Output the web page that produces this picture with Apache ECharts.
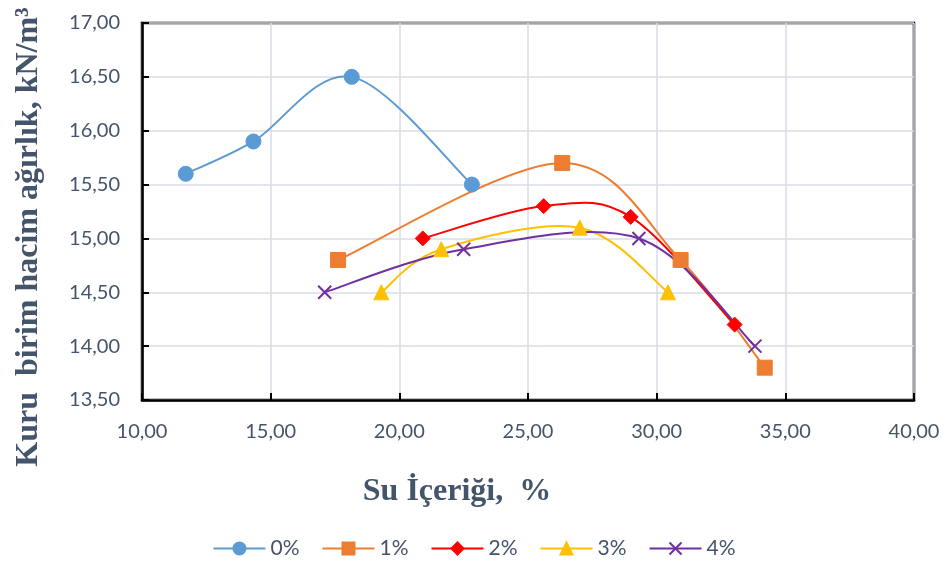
<!DOCTYPE html>
<html>
<head>
<meta charset="utf-8">
<script src="https://cdn.jsdelivr.net/npm/echarts@6/dist/echarts.min.js"></script>
<style>
  html, body { margin: 0; padding: 0; background: #fff; }
  #chart { width: 948px; height: 567px; }
</style>
</head>
<body>
<div id="chart"></div>
<script>
// seri adlari
const seriesNames = ['0%', '1%', '2%', '3%', '4%']

// su icerigi (x) ve kuru birim hacim agirlik (y)
const water0 = [11.70, 14.33, 18.15, 22.82]
const dens0 = [15.60, 15.90, 16.50, 15.50]
const water1 = [17.62, 26.33, 30.93, 34.20]
const dens1 = [14.80, 15.70, 14.80, 13.80]
const water2 = [20.91, 25.61, 28.99, 33.03]
const dens2 = [15.00, 15.30, 15.20, 14.20]
const water3 = [19.30, 21.63, 27.01, 30.44]
const dens3 = [14.50, 14.90, 15.10, 14.50]
const water4 = [17.10, 22.50, 29.31, 33.82]
const dens4 = [14.50, 14.90, 15.00, 14.00]

const xTicks = { min: 10, max: 40, step: 5 }
const yTicks = { min: 13.5, max: 17, step: 0.5 }

const colors = ['#5B9BD5', '#ED7D31', '#FF0000', '#FFC000', '#7030A0']
const symbols = ['circle', 'rect', 'diamond', 'triangle', 'path://M0,0L10,10M10,0L0,10']
const symbolSizes = [15, 15, 15, 15, 13]

const pairs = (xs, ys) => xs.map((x, i) => [x, ys[i]])
const allData = [
  pairs(water0, dens0),
  pairs(water1, dens1),
  pairs(water2, dens2),
  pairs(water3, dens3),
  pairs(water4, dens4)
]

const txtColor = '#44546A'
const fmt = v => v.toFixed(2).replace('.', ',')

// Excel tarzi yumusak egri: noktalar arasi Catmull-Rom bezier (piksel uzayinda)
const smoothPath = pts => {
  let d = 'M' + pts[0][0] + ' ' + pts[0][1]
  for (let i = 0; i < pts.length - 1; i++) {
    const p0 = pts[i - 1] || pts[i]
    const p1 = pts[i]
    const p2 = pts[i + 1]
    const p3 = pts[i + 2] || pts[i + 1]
    const c1x = p1[0] + (p2[0] - p0[0]) / 6
    const c1y = p1[1] + (p2[1] - p0[1]) / 6
    const c2x = p2[0] - (p3[0] - p1[0]) / 6
    const c2y = p2[1] - (p3[1] - p1[1]) / 6
    d += ' C' + c1x + ' ' + c1y + ' ' + c2x + ' ' + c2y + ' ' + p2[0] + ' ' + p2[1]
  }
  return d
}

const chart = echarts.init(document.getElementById('chart'))

// egriler
const curves = seriesNames.map((name, i) => ({
  type: 'custom',
  coordinateSystem: 'cartesian2d',
  data: [allData[i][0]],
  silent: true,
  z: 2,
  renderItem: (params, api) => {
    const pts = allData[i].map(p => api.coord(p))
    return {
      type: 'path',
      shape: { pathData: smoothPath(pts) },
      style: { stroke: colors[i], lineWidth: 2, fill: null }
    }
  }
}))

// isaretler (ve lejant)
const markers = seriesNames.map((name, i) => {
  const isCross = i === 4
  return {
    name,
    type: 'line',
    data: allData[i],
    symbol: symbols[i],
    symbolSize: symbolSizes[i],
    lineStyle: { color: colors[i], width: 2, opacity: 0 },
    itemStyle: isCross
      ? { color: 'rgba(0,0,0,0)', borderColor: colors[i], borderWidth: 2 }
      : { color: colors[i], borderColor: colors[i], borderWidth: 1 },
    emphasis: { disabled: true },
    z: 3 + i
  }
})

chart.setOption({
  animation: false,
  backgroundColor: '#fff',
  grid: {
    left: 142, right: 34, top: 23, bottom: 167,
    show: true, borderColor: '#000', borderWidth: 2.5
  },
  xAxis: {
    type: 'value',
    min: xTicks.min, max: xTicks.max, interval: xTicks.step,
    axisLine: { show: true, lineStyle: { color: '#000', width: 2.5 } },
    axisTick: { show: true, inside: true, length: 7, lineStyle: { color: '#000', width: 2 } },
    axisLabel: { formatter: fmt, color: txtColor, fontFamily: 'Lato', fontSize: 20, margin: 22 },
    splitLine: { show: true, lineStyle: { color: '#D9DEE6', width: 1.5 } }
  },
  yAxis: {
    type: 'value',
    min: yTicks.min, max: yTicks.max, interval: yTicks.step,
    axisLine: { show: true, lineStyle: { color: '#000', width: 2.5 } },
    axisTick: { show: true, inside: true, length: 7, lineStyle: { color: '#000', width: 2 } },
    axisLabel: { formatter: fmt, color: txtColor, fontFamily: 'Lato', fontSize: 20, margin: 22 },
    splitLine: { show: true, lineStyle: { color: '#D9DEE6', width: 1.5 } }
  },
  legend: {
    data: seriesNames.map((name, i) => ({
      name,
      lineStyle: { color: colors[i], width: 2, opacity: 1 }
    })),
    left: 'center',
    top: 533,
    itemWidth: 52,
    itemHeight: 15,
    itemGap: 22,
    textStyle: { color: txtColor, fontFamily: 'Lato', fontSize: 21 }
  },
  graphic: [
    {
      type: 'text',
      x: 29, y: 237,
      rotation: Math.PI / 2,
      style: {
        text: 'Kuru  birim hacim ağırlık, kN/m³',
        font: 'bold 32px "Liberation Serif"',
        fill: txtColor,
        textAlign: 'center',
        textVerticalAlign: 'middle'
      }
    },
    {
      type: 'text',
      x: 457, y: 492,
      style: {
        text: 'Su İçeriği,  %',
        font: 'bold 32px "Liberation Serif"',
        fill: txtColor,
        textAlign: 'center',
        textVerticalAlign: 'middle'
      }
    }
  ],
  series: curves.concat(markers)
})
</script>
</body>
</html>
